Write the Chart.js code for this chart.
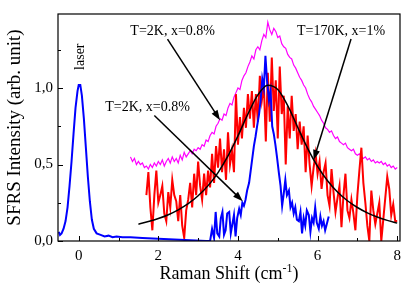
<!DOCTYPE html>
<html>
<head>
<meta charset="utf-8">
<script src="https://cdn.jsdelivr.net/npm/chart.js@4.4.1/dist/chart.umd.min.js"></script>
<style>
    html, body { margin: 0; padding: 0; background: #fff; }
    #wrap { width: 407px; height: 285px; }
</style>
</head>
<body>
<div id="wrap"><canvas id="sfrsChart"></canvas></div>
<script>
// tick values
var xTicks = [0, 2, 4, 6, 8];
var xMinor = [1, 3, 5, 7];
var yTicks = [0, 0.5, 1.0];
var yMinor = [0.25, 0.75, 1.25];

// blue: laser line + T=2K, x=0.8% spectrum
var blueX = [-0.50, -0.47, -0.43, -0.38, -0.33, -0.28, -0.23, -0.18, -0.13, -0.08, -0.03, 0.00, 0.04, 0.08, 0.13, 0.18, 0.23, 0.28, 0.33, 0.38,
    0.45, 0.55, 0.65, 0.75, 0.85, 0.95, 1.10, 1.30, 1.60, 2.00, 2.40, 2.80, 3.20, 3.30,
    3.35, 3.40, 3.44, 3.48, 3.53, 3.57, 3.61, 3.65, 3.69, 3.73, 3.78, 3.82, 3.86, 3.90, 3.94, 3.98, 4.03, 4.07, 4.11, 4.15,
    4.19, 4.23, 4.28, 4.32, 4.36, 4.40, 4.44, 4.48, 4.53, 4.57, 4.61, 4.65, 4.69, 4.73, 4.78, 4.82, 4.86, 4.90, 4.94, 4.98,
    5.03, 5.07, 5.11, 5.15, 5.19, 5.23, 5.28, 5.32, 5.36, 5.40, 5.44, 5.48, 5.53, 5.57, 5.61, 5.65, 5.69, 5.73, 5.78, 5.82,
    5.86, 5.90, 5.94, 5.98, 6.03, 6.07, 6.11, 6.15, 6.19, 6.23, 6.28];
var blueY = [0.06, 0.04, 0.05, 0.08, 0.13, 0.22, 0.36, 0.52, 0.70, 0.87, 0.98, 1.02, 1.02, 0.95, 0.80, 0.61, 0.42, 0.26, 0.14, 0.08,
    0.05, 0.04, 0.03, 0.035, 0.025, 0.03, 0.025, 0.025, 0.02, 0.015, 0.01, 0.005, 0.0, 0.0,
    0.08, 0.02, 0.19, 0.05, 0.03, 0.15, 0.19, 0.04, 0.07, 0.18, 0.19, 0.05, 0.11, 0.17, 0.03, 0.15, 0.21, 0.17, 0.25, 0.23,
    0.27, 0.33, 0.38, 0.46, 0.54, 0.62, 0.68, 0.75, 0.83, 0.92, 1.06, 1.00, 1.21, 1.05, 0.92, 0.98, 0.75, 0.70, 0.63, 0.55,
    0.44, 0.36, 0.23, 0.31, 0.40, 0.30, 0.33, 0.22, 0.25, 0.18, 0.22, 0.14, 0.13, 0.19, 0.05, 0.15, 0.10, 0.20, 0.17, 0.06,
    0.15, 0.12, 0.22, 0.12, 0.08, 0.16, 0.10, 0.13, 0.07, 0.11, 0.16];

// red: T=170K, x=1%, sampled every 0.05 from 1.70
var redStart = 1.70, redStep = 0.05;
var redY = [0.30, 0.45, 0.22, 0.07, 0.30, 0.46, 0.25,
    0.30, 0.36, 0.18, 0.13, 0.32, 0.22, 0.40, 0.30, 0.26, 0.13,
    0.30, 0.10, 0.02, 0.20, 0.27, 0.38, 0.22, 0.44, 0.30, 0.52,
    0.36, 0.27, 0.44, 0.30, 0.46, 0.35, 0.57, 0.38, 0.62, 0.48,
    0.67, 0.45, 0.60, 0.40, 0.71, 0.50, 0.59, 0.45, 0.96, 0.63,
    0.81, 0.67, 0.87, 0.74, 0.96, 0.80, 0.98, 0.74, 0.96, 0.78,
    1.08, 0.92, 1.02, 0.65, 1.10, 0.78, 1.20, 0.85, 1.05, 0.67,
    1.14, 0.83, 0.95, 0.50, 0.88, 0.67, 0.95, 0.72, 0.83, 0.60,
    0.78, 0.63, 0.75, 0.45,
    0.69, 0.50, 0.36, 0.48, 0.57, 0.44, 0.52, 0.34, 0.45, 0.51,
    0.30, 0.23, 0.47, 0.32, 0.19, 0.28, 0.36, 0.09, 0.30, 0.44,
    0.20, 0.15, 0.27, 0.18, 0.07, 0.30, 0.46, 0.61, 0.38, 0.25,
    0.10, 0.00, 0.33, 0.20, 0.11, 0.18, 0.25, 0.00, 0.14, 0.28,
    0.42, 0.34, 0.17, 0.24, 0.13, 0.13];

// magenta: T=2K, x=0.8%, sampled every 0.05 from 1.30
var magStart = 1.30, magStep = 0.05;
var magY = [0.55, 0.52, 0.54, 0.50, 0.52, 0.50, 0.51, 0.48, 0.49, 0.47,
    0.50, 0.48, 0.51, 0.49, 0.52, 0.50, 0.53, 0.49, 0.52, 0.54,
    0.51, 0.55, 0.52, 0.54, 0.51, 0.56, 0.53, 0.58, 0.55, 0.57,
    0.59, 0.57, 0.60, 0.59, 0.61, 0.60, 0.63, 0.62, 0.66, 0.65,
    0.69, 0.71, 0.70, 0.75, 0.77, 0.80, 0.79, 0.83, 0.82, 0.87,
    0.90, 0.89, 0.94, 0.97, 1.00, 0.99, 1.05, 1.08, 1.10, 1.14,
    1.17, 1.21, 1.19, 1.25, 1.27, 1.25, 1.31, 1.35, 1.33, 1.43,
    1.38, 1.35, 1.39, 1.37, 1.33, 1.34, 1.29, 1.27, 1.26, 1.22,
    1.20, 1.19, 1.15, 1.13, 1.10, 1.07, 1.05, 1.02, 1.00, 0.96,
    0.93, 0.91, 0.88, 0.86, 0.84, 0.82, 0.79, 0.77, 0.74, 0.73,
    0.71, 0.72, 0.69, 0.67, 0.68, 0.65, 0.64, 0.63, 0.64, 0.61,
    0.60, 0.59, 0.60, 0.57, 0.56, 0.57, 0.55, 0.54, 0.55, 0.53,
    0.54, 0.52, 0.53, 0.51, 0.52, 0.51, 0.52, 0.50, 0.51, 0.49,
    0.50, 0.48, 0.49, 0.47, 0.48];

// black fit curve
var fitX = [1.5, 1.75, 2.0, 2.25, 2.5, 2.75, 3.0, 3.25, 3.5, 3.75, 4.0, 4.25, 4.5, 4.75, 5.0, 5.25, 5.5, 5.75, 6.0, 6.25, 6.5, 6.75, 7.0, 7.25, 7.5, 7.75, 8.0];
var fitY = [0.11, 0.127, 0.147, 0.172, 0.204, 0.244, 0.296, 0.362, 0.447, 0.556, 0.687, 0.83, 0.955, 1.018, 0.99, 0.885, 0.744, 0.606, 0.488, 0.394, 0.32, 0.263, 0.219, 0.184, 0.157, 0.135, 0.117];

// annotations (data coordinates)
var notes = [
    { text: 'T=2K, x=0.8%', x: 2.36, y: 1.373 },
    { text: 'T=2K, x=0.8%', x: 1.73, y: 0.876 },
    { text: 'T=170K, x=1%', x: 6.59, y: 1.373 }
];
var arrows = [
    { x1: 2.23, y1: 1.32, x2: 3.55, y2: 0.79 },
    { x1: 1.90, y1: 0.82, x2: 4.12, y2: 0.26 },
    { x1: 6.84, y1: 1.32, x2: 5.90, y2: 0.53 }
];

var SERIF = '"Liberation Serif", "Times New Roman", serif';

function pairs(xs, ys) {
    return ys.map(function (v, i) { return { x: xs[i], y: v }; });
}
function stepped(start, step, ys) {
    return ys.map(function (v, i) { return { x: +(start + i * step).toFixed(2), y: v }; });
}

function drawArrow(ctx, x1, y1, x2, y2) {
    var ang = Math.atan2(y2 - y1, x2 - x1);
    var L = 10, W = 3.5;
    var c = Math.cos(ang), s = Math.sin(ang);
    ctx.beginPath();
    ctx.moveTo(x1, y1);
    ctx.lineTo(x2 - L * 0.8 * c, y2 - L * 0.8 * s);
    ctx.stroke();
    ctx.beginPath();
    ctx.moveTo(x2, y2);
    ctx.lineTo(x2 - L * c + W * s, y2 - L * s - W * c);
    ctx.lineTo(x2 - L * c - W * s, y2 - L * s + W * c);
    ctx.closePath();
    ctx.fill();
}

// frame, inward ticks, labels, arrows and x title
var decor = {
    id: 'decor',
    afterDraw: function (chart) {
        var ctx = chart.ctx, a = chart.chartArea;
        var xs = chart.scales.x, ys = chart.scales.y;
        ctx.save();
        ctx.strokeStyle = '#000';
        ctx.fillStyle = '#000';
        ctx.lineWidth = 1;

        xTicks.concat(xMinor).forEach(function (v) {
            var px = Math.round(xs.getPixelForValue(v)) + 0.5;
            var len = xTicks.indexOf(v) >= 0 ? 5 : 3;
            ctx.beginPath(); ctx.moveTo(px, a.bottom); ctx.lineTo(px, a.bottom - len); ctx.stroke();
        });
        yTicks.concat(yMinor).forEach(function (v) {
            var py = Math.round(ys.getPixelForValue(v)) + 0.5;
            var len = yTicks.indexOf(v) >= 0 ? 5 : 3;
            ctx.beginPath(); ctx.moveTo(a.left, py); ctx.lineTo(a.left + len, py); ctx.stroke();
        });

        ctx.lineWidth = 1.2;
        ctx.strokeRect(a.left, a.top, a.right - a.left, a.bottom - a.top);

        // text notes
        ctx.font = '14px ' + SERIF;
        ctx.textAlign = 'center';
        ctx.textBaseline = 'middle';
        notes.forEach(function (n) {
            ctx.fillText(n.text, xs.getPixelForValue(n.x), ys.getPixelForValue(n.y));
        });
        // "laser" label, rotated
        ctx.save();
        ctx.translate(xs.getPixelForValue(0.03), ys.getPixelForValue(1.205));
        ctx.rotate(-Math.PI / 2);
        ctx.fillText('laser', 0, 0);
        ctx.restore();

        ctx.lineWidth = 1.5;
        arrows.forEach(function (r) {
            drawArrow(ctx, xs.getPixelForValue(r.x1), ys.getPixelForValue(r.y1),
                xs.getPixelForValue(r.x2), ys.getPixelForValue(r.y2));
        });

        // x axis title with superscript
        var t1 = 'Raman Shift (cm', t2 = '-1', t3 = ')';
        ctx.textAlign = 'left';
        ctx.textBaseline = 'alphabetic';
        ctx.font = '18px ' + SERIF;
        var w1 = ctx.measureText(t1).width, w3 = ctx.measureText(t3).width;
        ctx.font = '12px ' + SERIF;
        var w2 = ctx.measureText(t2).width;
        var sx = (a.left + a.right) / 2 - (w1 + w2 + w3) / 2;
        var by = 279;
        ctx.font = '18px ' + SERIF;
        ctx.fillText(t1, sx, by);
        ctx.font = '12px ' + SERIF;
        ctx.fillText(t2, sx + w1, by - 7);
        ctx.font = '18px ' + SERIF;
        ctx.fillText(t3, sx + w1 + w2, by);
        ctx.restore();
    }
};

document.addEventListener('DOMContentLoaded', function () {
    var ctx = document.getElementById('sfrsChart').getContext('2d');
    var line = { showLine: true, pointRadius: 0, fill: false, tension: 0 };

    new Chart(ctx, {
        type: 'scatter',
        data: {
            datasets: [
                Object.assign({}, line, { label: 'fit', data: pairs(fitX, fitY), borderColor: '#000', borderWidth: 1.5, tension: 0.4, cubicInterpolationMode: 'monotone' }),
                Object.assign({}, line, { label: 'T=2K blue', data: pairs(blueX, blueY), borderColor: '#0000ff', borderWidth: 2 }),
                Object.assign({}, line, { label: 'T=170K', data: stepped(redStart, redStep, redY), borderColor: '#ff0000', borderWidth: 2 }),
                Object.assign({}, line, { label: 'T=2K', data: stepped(magStart, magStep, magY), borderColor: '#ff00ff', borderWidth: 1.2 })
            ]
        },
        options: {
            responsive: true,
            maintainAspectRatio: false,
            animation: false,
            layout: { padding: { top: 2, right: 5, left: 0, bottom: 0 } },
            plugins: {
                legend: { display: false },
                tooltip: { enabled: false }
            },
            scales: {
                x: {
                    type: 'linear',
                    min: -0.52,
                    max: 8.07,
                    grid: { display: false, drawTicks: false },
                    border: { display: false },
                    afterBuildTicks: function (s) { s.ticks = xTicks.map(function (v) { return { value: v }; }); },
                    afterFit: function (s) { s.height = 44; },
                    ticks: {
                        padding: 6,
                        color: '#000',
                        font: { family: SERIF, size: 15 },
                        callback: function (v) { return String(v); }
                    }
                },
                y: {
                    min: 0,
                    max: 1.484,
                    grid: { display: false, drawTicks: false },
                    border: { display: false },
                    afterBuildTicks: function (s) { s.ticks = yTicks.map(function (v) { return { value: v }; }); },
                    afterFit: function (s) { s.width = 58; },
                    ticks: {
                        padding: 5,
                        color: '#000',
                        font: { family: SERIF, size: 15 },
                        callback: function (v) { return v.toFixed(1).replace('.', ','); }
                    },
                    title: {
                        display: true,
                        text: 'SFRS Intensity (arb. unit)',
                        color: '#000',
                        font: { family: SERIF, size: 19 },
                        padding: { top: 4, bottom: 0 }
                    }
                }
            }
        },
        plugins: [decor]
    });
});
</script>
</body>
</html>
